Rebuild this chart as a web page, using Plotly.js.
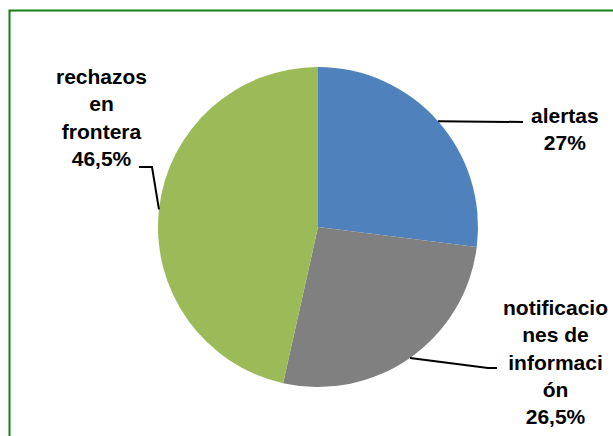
<!DOCTYPE html>
<html>
<head>
<meta charset="utf-8">
<script src="https://cdn.plot.ly/plotly-3.0.1.min.js"></script>
<style>
  html, body { margin: 0; padding: 0; background: #fff; }
  #chart { width: 613px; height: 436px; }
</style>
</head>
<body>
<div id="chart"></div>
<script>
var categories = ['alertas', 'notificaciones de información', 'rechazos en frontera'];
var shares = [27, 26.5, 46.5];
var wrappedLabels = ['alertas', 'notificacio<br>nes de<br>informaci<br>ón', 'rechazos<br>en<br>frontera'];
var sliceColours = ['#4F81BD', '#808080', '#9BBB59'];

var W = 613, H = 436;
// pie placement in pixels
var cx = 318, cy = 227, r = 160;

function px(x) { return x / W; }
function py(y) { return 1 - y / H; }

function pctText(v) {
    return String(v).replace('.', ',') + '%';
}

// mid angle of each slice (clockwise from 12 o'clock), point on the rim
var total = shares.reduce(function (a, b) { return a + b; }, 0);
var rim = [];
var acc = 0;
for (var i = 0; i < shares.length; i++) {
    var mid = (acc + shares[i] / 2) / total * 2 * Math.PI;
    rim.push({x: cx + r * Math.sin(mid), y: cy - r * Math.cos(mid)});
    acc += shares[i];
}

// where each label sits and where its leader line bends
var labelPos = [{x: 565, y: 129}, {x: 555, y: 362}, {x: 101, y: 117}];
var leaderBends = [
    [[523, 122]],
    [[488, 368], [497, 368]],
    [[152, 167], [139, 167]]
];

var trace = {
    type: 'pie',
    labels: categories,
    values: shares,
    sort: false,
    direction: 'clockwise',
    rotation: 0,
    textinfo: 'none',
    hoverinfo: 'label+percent',
    marker: {colors: sliceColours, line: {width: 0}},
    domain: {x: [px(cx - r), px(cx + r)], y: [py(cy + r), py(cy - r)]},
    showlegend: false
};

var annotations = [];
var shapes = [];
for (var k = 0; k < categories.length; k++) {
    annotations.push({
        xref: 'paper', yref: 'paper',
        x: px(labelPos[k].x), y: py(labelPos[k].y),
        xanchor: 'center', yanchor: 'middle',
        text: '<b>' + wrappedLabels[k] + '<br>' + pctText(shares[k]) + '</b>',
        showarrow: false,
        align: 'center',
        font: {family: 'Liberation Sans, Arial, sans-serif', size: 21, color: '#000'}
    });
    var path = 'M' + px(rim[k].x) + ',' + py(rim[k].y);
    leaderBends[k].forEach(function (p) {
        path += ' L' + px(p[0]) + ',' + py(p[1]);
    });
    shapes.push({
        type: 'path', xref: 'paper', yref: 'paper',
        path: path,
        line: {color: '#000', width: 2}
    });
}

// chart frame (right and bottom edges fall outside the picture)
shapes.push({
    type: 'rect', xref: 'paper', yref: 'paper',
    x0: px(9.5), x1: px(640), y0: py(10.5), y1: py(470),
    line: {color: '#118211', width: 2}
});

var layout = {
    width: W,
    height: H,
    margin: {l: 0, r: 0, t: 0, b: 0},
    paper_bgcolor: '#ffffff',
    annotations: annotations,
    shapes: shapes
};

Plotly.newPlot('chart', [trace], layout, {displayModeBar: false, staticPlot: true});
</script>
</body>
</html>
